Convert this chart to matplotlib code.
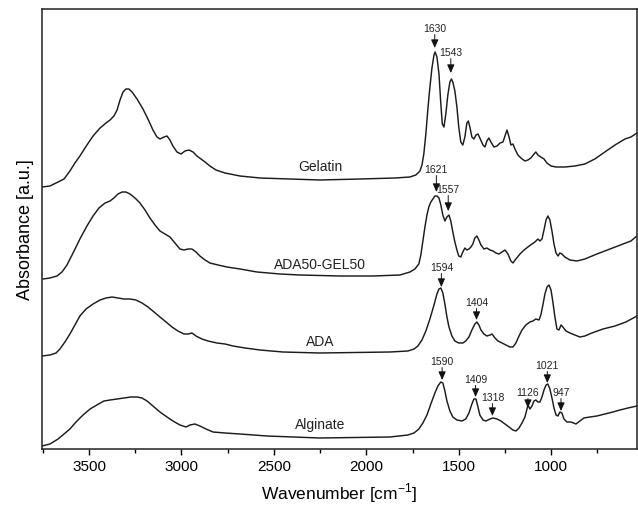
import numpy as np
import matplotlib
matplotlib.use('Agg')
import matplotlib.pyplot as plt
from matplotlib.ticker import MultipleLocator

plt.rcParams['font.family'] = ['Liberation Sans', 'DejaVu Sans']
plt.rcParams['mathtext.fontset'] = 'custom'
plt.rcParams['mathtext.rm'] = 'Liberation Sans'

# ---------------- data ----------------
sample_names = ['Gelatin', 'ADA50-GEL50', 'ADA', 'Alginate']
offsets = [2.70, 1.73, 0.96, 0.12]

gelatin_wn = [3754, 3711, 3667, 3635, 3603, 3576, 3549, 3511, 3478, 3440, 3408, 3386,
              3365, 3348, 3332, 3316, 3300, 3284, 3267, 3240, 3208, 3181, 3154, 3132,
              3116, 3094, 3078, 3062, 3046, 3024, 3002, 2981, 2959, 2937, 2916, 2894,
              2872, 2846, 2813, 2764, 2683, 2575, 2413, 2251, 2034, 1845, 1764, 1732,
              1710, 1699, 1689, 1678, 1667, 1656, 1645, 1634, 1628, 1618, 1607, 1597,
              1589, 1580, 1570, 1559, 1548, 1540, 1532, 1521, 1510, 1500, 1489, 1478,
              1467, 1456, 1448, 1440, 1429, 1418, 1407, 1396, 1386, 1369, 1358, 1348,
              1337, 1326, 1310, 1293, 1277, 1261, 1250, 1239, 1228, 1218, 1207, 1196,
              1180, 1164, 1142, 1126, 1110, 1093, 1083, 1072, 1056, 1039, 1023, 1001,
              974, 926, 872, 818, 764, 710, 655, 601, 569, 536]
gelatin_abs = [-0.08, -0.07, -0.03, 0.00, 0.08, 0.16, 0.23, 0.34, 0.43, 0.51, 0.56, 0.59,
               0.63, 0.69, 0.79, 0.87, 0.90, 0.90, 0.87, 0.80, 0.70, 0.60, 0.49, 0.42,
               0.40, 0.42, 0.43, 0.39, 0.33, 0.27, 0.25, 0.28, 0.29, 0.27, 0.23, 0.20,
               0.17, 0.13, 0.09, 0.06, 0.03, 0.01, 0.00, -0.01, 0.00, 0.01, 0.02, 0.04,
               0.08, 0.14, 0.25, 0.45, 0.70, 0.92, 1.11, 1.24, 1.27, 1.22, 1.05, 0.75,
               0.55, 0.52, 0.65, 0.84, 0.97, 1.00, 0.97, 0.88, 0.72, 0.52, 0.37, 0.34,
               0.42, 0.56, 0.58, 0.52, 0.42, 0.40, 0.44, 0.45, 0.41, 0.34, 0.32, 0.38,
               0.41, 0.37, 0.32, 0.33, 0.36, 0.37, 0.43, 0.49, 0.42, 0.34, 0.35, 0.30,
               0.24, 0.21, 0.18, 0.19, 0.21, 0.25, 0.27, 0.24, 0.22, 0.20, 0.16, 0.13,
               0.12, 0.12, 0.13, 0.15, 0.20, 0.27, 0.34, 0.40, 0.42, 0.46]

blend_wn = [3749, 3711, 3673, 3646, 3619, 3586, 3549, 3511, 3478, 3446, 3413, 3386,
            3365, 3343, 3321, 3300, 3278, 3251, 3224, 3197, 3170, 3143, 3116, 3089,
            3062, 3035, 3008, 2986, 2964, 2943, 2921, 2900, 2872, 2846, 2802, 2754,
            2683, 2591, 2467, 2359, 2142, 1964, 1818, 1764, 1737, 1716, 1705, 1694,
            1683, 1672, 1662, 1651, 1640, 1629, 1618, 1607, 1597, 1586, 1575, 1564,
            1553, 1543, 1532, 1521, 1510, 1500, 1489, 1478, 1467, 1456, 1445, 1434,
            1424, 1413, 1402, 1391, 1380, 1364, 1348, 1331, 1315, 1299, 1283, 1266,
            1250, 1234, 1218, 1207, 1191, 1169, 1147, 1126, 1104, 1088, 1072, 1061,
            1050, 1039, 1028, 1018, 1007, 996, 985, 974, 963, 953, 942, 926, 899,
            861, 818, 753, 682, 612, 569, 536]
blend_abs = [-0.03, -0.02, 0.00, 0.04, 0.11, 0.23, 0.37, 0.50, 0.60, 0.68, 0.73, 0.75,
             0.78, 0.82, 0.84, 0.84, 0.82, 0.78, 0.73, 0.66, 0.58, 0.51, 0.45, 0.42,
             0.39, 0.33, 0.27, 0.26, 0.27, 0.27, 0.24, 0.20, 0.16, 0.13, 0.11, 0.09,
             0.07, 0.04, 0.02, 0.01, 0.00, 0.00, 0.01, 0.04, 0.07, 0.12, 0.21, 0.35,
             0.49, 0.61, 0.69, 0.74, 0.77, 0.80, 0.80, 0.78, 0.71, 0.61, 0.55, 0.59,
             0.61, 0.55, 0.44, 0.34, 0.26, 0.20, 0.19, 0.24, 0.28, 0.26, 0.27, 0.29,
             0.32, 0.38, 0.40, 0.36, 0.31, 0.27, 0.28, 0.26, 0.25, 0.23, 0.22, 0.24,
             0.26, 0.22, 0.15, 0.13, 0.17, 0.22, 0.26, 0.29, 0.32, 0.34, 0.37, 0.35,
             0.37, 0.46, 0.56, 0.60, 0.56, 0.45, 0.32, 0.23, 0.20, 0.23, 0.22, 0.19, 0.16,
             0.15, 0.17, 0.22, 0.27, 0.32, 0.35, 0.40]

ada_wn = [3754, 3711, 3678, 3657, 3630, 3603, 3576, 3549, 3516, 3478, 3440, 3408,
          3375, 3343, 3311, 3278, 3246, 3213, 3181, 3148, 3116, 3083, 3051, 3019,
          2986, 2964, 2943, 2921, 2889, 2856, 2808, 2764, 2721, 2656, 2575, 2451,
          2251, 1872, 1775, 1742, 1721, 1699, 1678, 1656, 1634, 1618, 1607, 1597,
          1586, 1575, 1564, 1553, 1537, 1521, 1500, 1478, 1462, 1445, 1429, 1413,
          1402, 1391, 1380, 1364, 1348, 1331, 1320, 1304, 1288, 1266, 1245, 1223,
          1207, 1191, 1174, 1158, 1137, 1115, 1099, 1083, 1066, 1056, 1045, 1034,
          1023, 1012, 1001, 991, 980, 969, 958, 947, 937, 920, 899, 872, 845, 818,
          780, 720, 655, 596, 536]
ada_abs = [-0.03, -0.02, 0.00, 0.04, 0.11, 0.19, 0.28, 0.37, 0.44, 0.49, 0.53, 0.55,
           0.56, 0.55, 0.54, 0.54, 0.53, 0.50, 0.46, 0.41, 0.36, 0.31, 0.26, 0.22,
           0.19, 0.19, 0.20, 0.17, 0.14, 0.12, 0.10, 0.09, 0.07, 0.05, 0.03, 0.01,
           0.00, 0.01, 0.02, 0.04, 0.07, 0.13, 0.22, 0.34, 0.48, 0.59, 0.64, 0.65,
           0.60, 0.49, 0.36, 0.26, 0.17, 0.12, 0.10, 0.10, 0.12, 0.16, 0.23, 0.29,
           0.31, 0.28, 0.23, 0.19, 0.17, 0.18, 0.19, 0.15, 0.12, 0.10, 0.08, 0.06,
           0.06, 0.10, 0.17, 0.23, 0.28, 0.31, 0.32, 0.34, 0.33, 0.38, 0.48, 0.59,
           0.66, 0.68, 0.63, 0.51, 0.36, 0.24, 0.23, 0.28, 0.26, 0.22, 0.20, 0.18, 0.16,
           0.17, 0.20, 0.24, 0.27, 0.31, 0.37]

alginate_wn = [3754, 3711, 3667, 3635, 3603, 3570, 3532, 3494, 3457, 3419, 3386, 3348,
               3311, 3273, 3240, 3213, 3186, 3154, 3116, 3078, 3046, 3008, 2975, 2954,
               2927, 2900, 2867, 2829, 2764, 2683, 2537, 2251, 1872, 1775, 1742, 1716,
               1694, 1672, 1651, 1629, 1613, 1597, 1586, 1575, 1564, 1548, 1532, 1510,
               1483, 1462, 1445, 1429, 1418, 1407, 1396, 1386, 1369, 1353, 1331, 1315,
               1293, 1272, 1250, 1228, 1207, 1191, 1174, 1158, 1142, 1131, 1126, 1115,
               1104, 1093, 1083, 1072, 1061, 1050, 1039, 1028, 1018, 1007, 996, 985,
               974, 963, 953, 942, 931, 915, 893, 866, 845, 823, 791, 753, 710, 666,
               628, 585, 536]
alginate_abs = [-0.09, -0.07, -0.02, 0.03, 0.08, 0.15, 0.22, 0.28, 0.32, 0.36, 0.37, 0.38,
                0.39, 0.40, 0.40, 0.39, 0.36, 0.31, 0.25, 0.20, 0.16, 0.12, 0.10, 0.12,
                0.13, 0.11, 0.08, 0.05, 0.04, 0.03, 0.01, -0.01, 0.00, 0.02, 0.04, 0.08,
                0.14, 0.22, 0.33, 0.44, 0.51, 0.55, 0.54, 0.46, 0.36, 0.26, 0.20, 0.17,
                0.16, 0.18, 0.24, 0.33, 0.38, 0.38, 0.30, 0.22, 0.17, 0.16, 0.18, 0.19,
                0.18, 0.16, 0.13, 0.10, 0.07, 0.06, 0.09, 0.14, 0.20, 0.28, 0.32, 0.28,
                0.31, 0.36, 0.37, 0.35, 0.35, 0.40, 0.47, 0.52, 0.53, 0.48, 0.39, 0.29,
                0.22, 0.21, 0.25, 0.24, 0.18, 0.15, 0.15, 0.13, 0.16, 0.19, 0.20, 0.21,
                0.23, 0.25, 0.27, 0.29, 0.31]

series_wn = [gelatin_wn, blend_wn, ada_wn, alginate_wn]
series_abs = [gelatin_abs, blend_abs, ada_abs, alginate_abs]

peak_wn = [1630, 1543, 1621, 1557, 1594, 1404, 1590, 1409, 1318, 1126, 1021, 947]
peak_text = ['1630', '1543', '1621', '1557', '1594', '1404', '1590', '1409', '1318',
             '1126', '1021', '947']

# ---------------- layout ----------------
label_wn = 2250
label_y = [2.83, 1.85, 1.08, 0.25]
peak_text_y = [4.21, 3.97, 2.80, 2.60, 1.82, 1.47, 0.88, 0.70, 0.52, 0.57, 0.84, 0.57]
peak_tip_y = [4.01, 3.76, 2.57, 2.38, 1.62, 1.29, 0.69, 0.52, 0.33, 0.41, 0.66, 0.38]

fig = plt.figure(figsize=(6.38, 5.06), dpi=100)
ax = fig.add_axes([42/638, 56/506, 595/638, 440/506])

line_color = '#1c1c1c'
for wn, ab, off in zip(series_wn, series_abs, offsets):
    ax.plot(wn, np.asarray(ab) + off, color=line_color, lw=1.05)

for name, y in zip(sample_names, label_y):
    ax.text(label_wn, y, name, ha='center', va='center', fontsize=10, color='#222222')

for wn, txt, ty, tip in zip(peak_wn, peak_text, peak_text_y, peak_tip_y):
    ax.text(wn, ty, txt, ha='center', va='center', fontsize=7.5, color='#222222')
    ax.annotate('', xy=(wn, tip), xytext=(wn, ty - 0.065),
                arrowprops=dict(arrowstyle='-|>,head_length=0.5,head_width=0.22',
                                lw=0.7, color='#111111', shrinkA=0, shrinkB=0,
                                mutation_scale=10))

ax.set_xlim(3754, 536)
ax.set_ylim(0, 4.40)
ax.xaxis.set_major_locator(MultipleLocator(500))
ax.xaxis.set_minor_locator(MultipleLocator(250))
ax.tick_params(axis='x', which='major', direction='out', length=4.5, width=1.0,
               labelsize=11, pad=3, top=False)
ax.tick_params(axis='x', which='minor', direction='out', length=3, width=1.0, top=False)
ax.set_yticks([])
for s in ax.spines.values():
    s.set_linewidth(1.1)
    s.set_color('#222222')

ax.set_xlabel(r'Wavenumber [cm$^{\mathregular{-1}}$]', fontsize=12.5, labelpad=5)
ax.set_ylabel('Absorbance [a.u.]', fontsize=13, labelpad=6)

fig.savefig('out.png', dpi=100)
